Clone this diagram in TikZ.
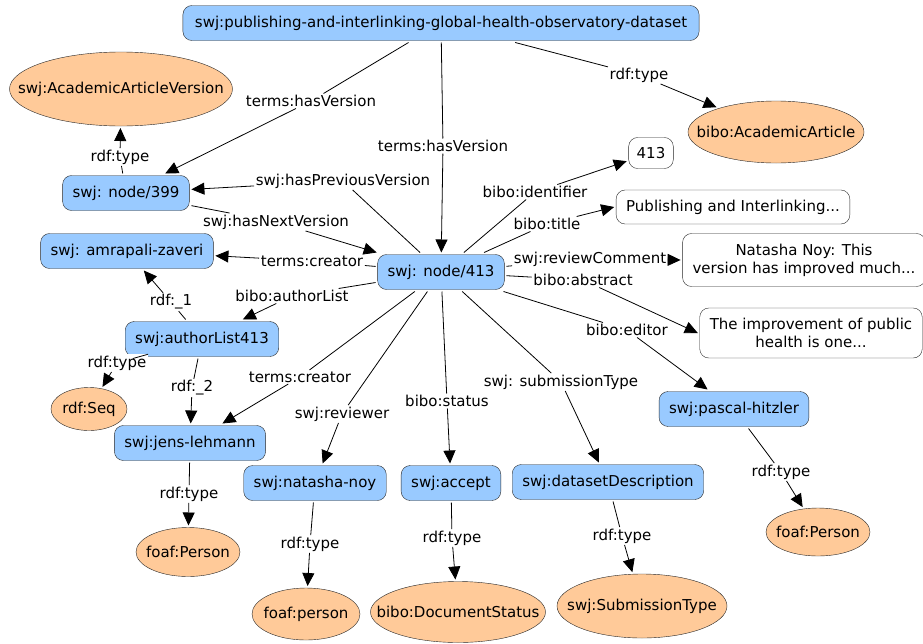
\documentclass[tikz,border=0pt]{standalone}
\usepackage{fontspec}
\setmainfont{DejaVu Sans}
\usetikzlibrary{shapes.geometric,arrows.meta}
\definecolor{resblue}{HTML}{99CAFF}
\definecolor{clsorange}{HTML}{FFCA99}

\begin{document}
\begin{tikzpicture}[x=1pt, y=-1pt, font=\fontsize{15}{18}\selectfont,
  res/.style={draw=black!85, fill=resblue, rounded corners=9pt, minimum height=35pt, inner xsep=10pt, outer sep=2pt},
  lit/.style={draw=black!85, fill=white, rounded corners=9pt, inner xsep=10pt, inner ysep=6pt, align=center, outer sep=2pt},
  cls/.style={ellipse, draw=black!85, fill=clsorange, inner sep=0pt, outer sep=2pt},
  lbl/.style={fill=white, inner sep=1.5pt},
  link/.style={line width=0.8pt},
  arr/.style={link, -{Triangle[length=13pt, width=12pt]}}]
\useasboundingbox (0,0) rectangle (923,643);

% resources
\node[res, inner xsep=12pt] (top) at (441,23) {swj:publishing-and-interlinking-global-health-observatory-dataset};
\node[res] (v399) at (126,193) {swj: node/399};
\node[res] (amr) at (127,251) {swj: amrapali-zaveri};
\node[res] (v413) at (441,272) {swj: node/413};
\node[res] (alist) at (202,339) {swj:authorList413};
\node[res] (jens) at (190,443) {swj:jens-lehmann};
\node[res] (noy) at (315,483) {swj:natasha-noy};
\node[res] (acc) at (451,483) {swj:accept};
\node[res] (dsd) at (608,482) {swj:datasetDescription};
\node[res] (pascal) at (734,409) {swj:pascal-hitzler};

% literals
\node[lit, minimum height=31pt, inner xsep=8pt] (ident) at (651,153) {413};
\node[lit, minimum height=34pt] (title) at (733,207) {Publishing and Interlinking...};
\node[lit, minimum width=232pt, minimum height=53pt] (cmt) at (804,260) {Natasha Noy: This\\version has improved much...};
\node[lit, minimum width=217pt, minimum height=50pt] (abs) at (811,333) {The improvement of public\\health is one...};

% classes
\node[cls, minimum width=223pt, minimum height=74pt] (aav) at (121,89) {\makebox[0pt]{swj:AcademicArticleVersion}};
\node[cls, minimum width=176pt, minimum height=62pt] (aa) at (776,132) {\makebox[0pt]{bibo:AcademicArticle}};
\node[cls, minimum width=76pt, minimum height=43pt] (seq) at (89,409) {\makebox[0pt]{rdf:Seq}};
\node[cls, minimum width=104pt, minimum height=49pt] (fp1) at (188,552) {\makebox[0pt]{foaf:Person}};
\node[cls, minimum width=108pt, minimum height=52pt] (fp2) at (306,614) {\makebox[0pt]{foaf:person}};
\node[cls, minimum width=175pt, minimum height=61pt] (dstat) at (458,612) {\makebox[0pt]{bibo:DocumentStatus}};
\node[cls, minimum width=170pt, minimum height=64pt] (stype) at (642,606) {\makebox[0pt]{swj:SubmissionType}};
\node[cls, minimum width=104pt, minimum height=48pt] (fp3) at (818,532) {\makebox[0pt]{foaf:Person}};

% property labels
\node[lbl] (e1) at (311,101) {terms:hasVersion};
\node[lbl] (e2) at (443,146) {terms:hasVersion};
\node[lbl] (e3) at (639,75) {rdf:type};
\node[lbl] (e4) at (120,157) {rdf:type};
\node[lbl] (e5) at (343,181) {swj:hasPreviousVersion};
\node[lbl] (e6) at (276,222) {swj:hasNextVersion};
\node[lbl] (e7) at (312,261) {terms:creator};
\node[lbl] (e8) at (292,296) {bibo:authorList};
\node[lbl] (e9) at (171,302) {rdf:\_1};
\node[lbl] (e10) at (117,363) {rdf:type};
\node[lbl] (e11) at (192,388) {rdf:\_2};
\node[lbl] (e12) at (300,377) {terms:creator};
\node[lbl] (e13) at (342,414) {swj:reviewer};
\node[lbl] (e14) at (447,401) {bibo:status};
\node[lbl] (e15) at (561,382) {swj: submissionType};
\node[lbl] (e16) at (627,330) {bibo:editor};
\node[lbl] (e17) at (583,280) {bibo:abstract};
\node[lbl] (e18) at (590,259) {swj:reviewComment};
\node[lbl] (e19) at (547,224) {bibo:title};
\node[lbl] (e20) at (535,192) {bibo:identifier};
\node[lbl] (e21) at (189,494) {rdf:type};
\node[lbl] (e22) at (310,544) {rdf:type};
\node[lbl] (e23) at (452,538) {rdf:type};
\node[lbl] (e24) at (622,536) {rdf:type};
\node[lbl] (e25) at (781,472) {rdf:type};

% edges: source -- label -> target
\draw[link] (top) -- (e1); \draw[arr] (e1) -- (v399);
\draw[link] (top) -- (e2); \draw[arr] (e2) -- (v413);
\draw[link] (top) -- (e3); \draw[arr] (e3) -- (aa);
\draw[link] (v399) -- (e4); \draw[arr] (e4) -- (aav);
\draw[link] (v413) -- (e5); \draw[arr] (e5) -- (v399);
\draw[link] (v399) -- (e6); \draw[arr] (e6) -- (v413);
\draw[link] (v413) -- (e7); \draw[arr] (e7) -- (amr);
\draw[link] (v413) -- (e8); \draw[arr] (e8) -- (alist);
\draw[link] (alist) -- (e9); \draw[arr] (e9) -- (amr);
\draw[link] (alist) -- (e10); \draw[arr] (e10) -- (seq);
\draw[link] (alist) -- (e11); \draw[arr] (e11) -- (jens);
\draw[link] (v413) -- (e12); \draw[arr] (e12) -- (jens);
\draw[link] (v413) -- (e13); \draw[arr] (e13) -- (noy);
\draw[link] (v413) -- (e14); \draw[arr] (e14) -- (acc);
\draw[link] (v413) -- (e15); \draw[arr] (e15) -- (dsd);
\draw[link] (v413) -- (e16); \draw[arr] (e16) -- (pascal);
\draw[link] (v413) -- (e17); \draw[arr] (e17) -- (abs.west);
\draw[link] (v413) -- (e18); \draw[arr] (e18) -- (cmt.west);
\draw[link] (v413) -- (e19); \draw[arr] (e19) -- (title.west);
\draw[link] (v413) -- (e20); \draw[arr] (e20) -- (ident);
\draw[link] (jens) -- (e21); \draw[arr] (e21) -- (fp1);
\draw[link] (noy) -- (e22); \draw[arr] (e22) -- (fp2);
\draw[link] (acc) -- (e23); \draw[arr] (e23) -- (dstat);
\draw[link] (dsd) -- (e24); \draw[arr] (e24) -- (stype);
\draw[link] (pascal) -- (e25); \draw[arr] (e25) -- (fp3);
\end{tikzpicture}
\end{document}
